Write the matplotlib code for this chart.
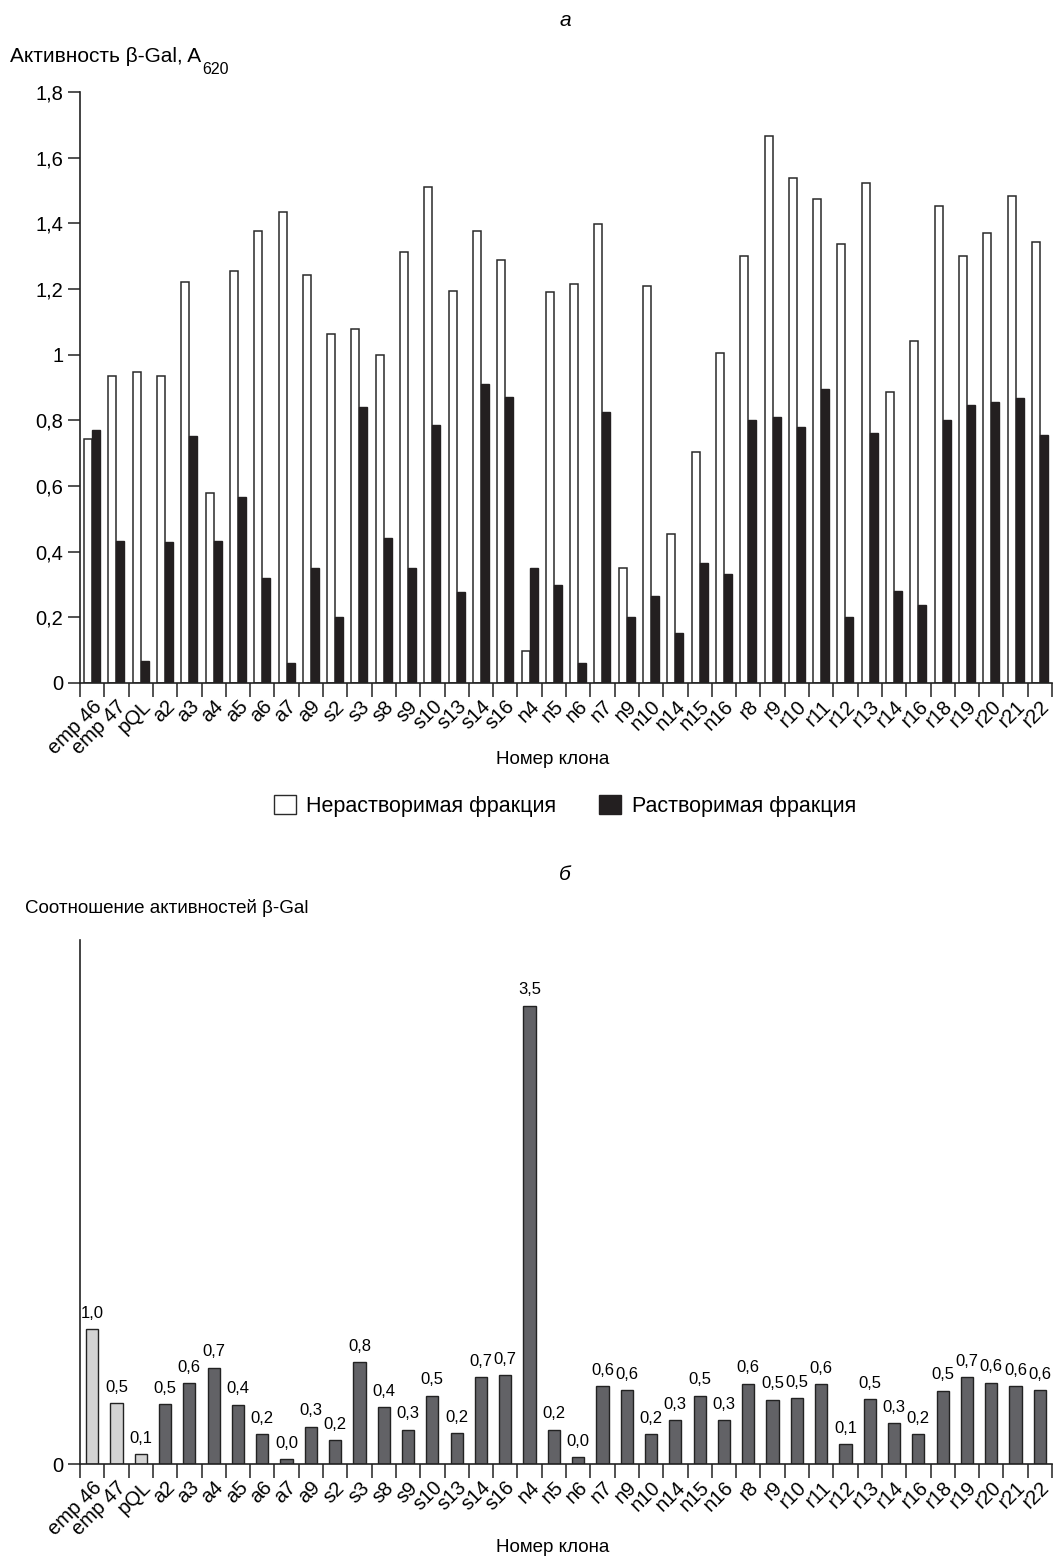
import numpy as np
import matplotlib.pyplot as plt
from matplotlib.patches import Patch

plt.rcParams["font.family"] = ["Liberation Sans", "DejaVu Sans"]

clones = [
    "emp 46", "emp 47", "pQL", "a2", "a3", "a4", "a5", "a6", "a7", "a9",
    "s2", "s3", "s8", "s9", "s10", "s13", "s14", "s16",
    "n4", "n5", "n6", "n7", "n9", "n10", "n14", "n15", "n16",
    "r8", "r9", "r10", "r11", "r12", "r13", "r14", "r16", "r18", "r19",
    "r20", "r21", "r22",
]

# panel a: insoluble / soluble fraction activity
insoluble = [
    0.743, 0.935, 0.947, 0.935, 1.221, 0.580, 1.255, 1.378, 1.435, 1.243,
    1.063, 1.078, 1.000, 1.314, 1.512, 1.195, 1.378, 1.287,
    0.097, 1.190, 1.216, 1.399, 0.349, 1.210, 0.453, 0.703, 1.006,
    1.299, 1.667, 1.538, 1.475, 1.337, 1.522, 0.885, 1.043, 1.452, 1.299,
    1.370, 1.482, 1.343,
]
soluble = [
    0.771, 0.431, 0.066, 0.429, 0.751, 0.431, 0.565, 0.319, 0.062, 0.350,
    0.202, 0.841, 0.443, 0.350, 0.785, 0.277, 0.910, 0.872,
    0.350, 0.297, 0.062, 0.825, 0.202, 0.266, 0.151, 0.365, 0.333,
    0.801, 0.811, 0.779, 0.896, 0.202, 0.762, 0.281, 0.237, 0.801, 0.846,
    0.856, 0.869, 0.754,
]

# panel b: activity ratio
ratio = [
    1.029, 0.463, 0.074, 0.456, 0.619, 0.736, 0.453, 0.227, 0.036, 0.285,
    0.183, 0.779, 0.435, 0.262, 0.522, 0.234, 0.662, 0.677,
    3.499, 0.262, 0.051, 0.593, 0.565, 0.227, 0.334, 0.522, 0.334,
    0.614, 0.491, 0.502, 0.609, 0.153, 0.494, 0.313, 0.227, 0.560, 0.662,
    0.621, 0.593, 0.565,
]
ratio_labels = [
    "1,0", "0,5", "0,1", "0,5", "0,6", "0,7", "0,4", "0,2", "0,0", "0,3",
    "0,2", "0,8", "0,4", "0,3", "0,5", "0,2", "0,7", "0,7",
    "3,5", "0,2", "0,0", "0,6", "0,6", "0,2", "0,3", "0,5", "0,3",
    "0,6", "0,5", "0,5", "0,6", "0,1", "0,5", "0,3", "0,2", "0,5", "0,7",
    "0,6", "0,6", "0,6",
]
n_control = 3

y_ticks_a = [0, 0.2, 0.4, 0.6, 0.8, 1.0, 1.2, 1.4, 1.6, 1.8]
y_ticklabels_a = ["0", "0,2", "0,4", "0,6", "0,8", "1", "1,2", "1,4", "1,6", "1,8"]

W, H = 1053, 1563
fig = plt.figure(figsize=(W / 100, H / 100), dpi=100)

x = np.arange(len(clones))
bw = 0.33


def style_axes(ax):
    for side in ("top", "right"):
        ax.spines[side].set_visible(False)
    for side in ("left", "bottom"):
        ax.spines[side].set_linewidth(1.2)
        ax.spines[side].set_color("#222222")
    ax.set_xlim(-0.5, len(clones) - 0.5)
    # ticks sit on the group boundaries, labels at group centres
    ax.set_xticks(np.arange(len(clones) + 1) - 0.5, minor=False)
    ax.set_xticklabels([])
    ax.tick_params(axis="x", which="major", direction="out", length=10, width=1.1,
                   color="#222222")
    ax.set_xticks(x, minor=True)
    ax.set_xticklabels(clones, minor=True, rotation=45, ha="right",
                       rotation_mode="anchor", fontsize=14.5)
    ax.tick_params(axis="x", which="minor", length=0, pad=10)
    ax.tick_params(axis="y", direction="out", length=9, width=1.1, pad=3,
                   color="#222222", labelsize=14.5)


# ---- panel a ----
ax1 = fig.add_axes([80 / W, 1 - 683 / H, 972 / W, 591 / H])
ax1.bar(x - bw / 2, insoluble, bw, color="white", edgecolor="#2a2a2a", linewidth=1.1)
ax1.bar(x + bw / 2, soluble, bw, color="#231f20", edgecolor="#231f20", linewidth=1.0)
ax1.set_ylim(0, 1.8)
ax1.set_yticks(y_ticks_a)
ax1.set_yticklabels(y_ticklabels_a)
style_axes(ax1)

fig.text(565 / W, 1 - 20 / H, "а", fontsize=15, style="italic", ha="center", va="center")
ylab = fig.text(10 / W, 1 - 57 / H, "Активность β-Gal, A", fontsize=15,
                ha="left", va="center")
ax1.annotate("620", xy=(1.0, 0.0), xycoords=ylab, xytext=(0.5, 3),
             textcoords="offset points", ha="left", va="top", fontsize=11.5)
fig.text(553 / W, 1 - 760 / H, "Номер клона", fontsize=13.5, ha="center", va="center")

handles = [
    Patch(facecolor="white", edgecolor="#2a2a2a", linewidth=1.0, label="Нерастворимая фракция"),
    Patch(facecolor="#231f20", edgecolor="#231f20", linewidth=1.0, label="Растворимая фракция"),
]
fig.legend(handles=handles, loc="center", bbox_to_anchor=(565 / W, 1 - 806 / H),
           ncol=2, frameon=False, fontsize=15.5, handlelength=1.0, handleheight=1.0,
           handletextpad=0.5, columnspacing=2.0)

# ---- panel b ----
ax2 = fig.add_axes([80 / W, 1 - 1464 / H, 972 / W, 524 / H])
colors = ["#d3d3d3"] * n_control + ["#626266"] * (len(clones) - n_control)
ax2.bar(x, ratio, 0.5, color=colors, edgecolor="#222222", linewidth=1.0)
ax2.set_ylim(0, 4.0)
ax2.set_yticks([0])
ax2.set_yticklabels(["0"])
style_axes(ax2)
for xi, v, lab in zip(x, ratio, ratio_labels):
    ax2.annotate(lab, (xi, v), xytext=(0, 6), textcoords="offset points",
                 ha="center", va="bottom", fontsize=12)

fig.text(565 / W, 1 - 875 / H, "б", fontsize=15, style="italic", ha="center", va="center")
fig.text(25 / W, 1 - 908 / H, "Соотношение активностей β-Gal", fontsize=13.5,
         ha="left", va="center")
fig.text(553 / W, 1 - 1548 / H, "Номер клона", fontsize=13.5, ha="center", va="center")

fig.savefig("out.png", dpi=100)
